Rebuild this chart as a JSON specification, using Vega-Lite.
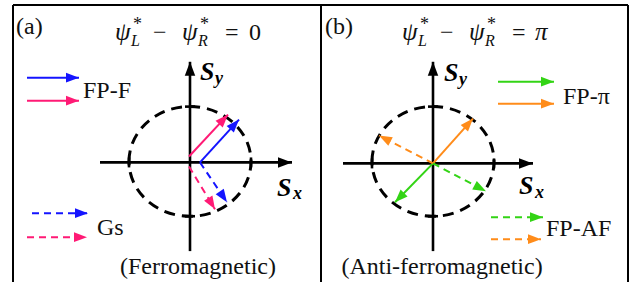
{
  "$schema": "https://vega.github.io/schema/vega-lite/v6.json",
  "width": 632,
  "height": 283,
  "padding": 0,
  "autosize": {"type": "fit", "contains": "padding"},
  "background": "white",
  "config": {"view": {"stroke": null}, "text": {"font": "'Liberation Serif', 'DejaVu Serif', serif"}},
  "datasets": {
    "seg": [
      {"k": "frame", "s": "k", "x": 13, "y": 5, "x2": 628, "y2": 5},
      {"k": "frame", "s": "k", "x": 13, "y": 5, "x2": 13, "y2": 283},
      {"k": "frame", "s": "k", "x": 321, "y": 5, "x2": 321, "y2": 283},
      {"k": "frame", "s": "k", "x": 628, "y": 5, "x2": 628, "y2": 283},
      {"k": "axis", "s": "k", "x": 190, "y": 252, "x2": 190, "y2": 62, "dir": -90},
      {"k": "axis", "s": "k", "x": 100, "y": 163, "x2": 292, "y2": 163, "dir": 0},
      {"k": "axis", "s": "k", "x": 433, "y": 252, "x2": 433, "y2": 62, "dir": -90},
      {"k": "axis", "s": "k", "x": 343, "y": 164, "x2": 533, "y2": 164, "dir": 0},
      {"k": "tick", "s": "k", "x": 129, "y": 158, "x2": 129, "y2": 168},
      {"k": "tick", "s": "k", "x": 251, "y": 158, "x2": 251, "y2": 168},
      {"k": "tick", "s": "k", "x": 185, "y": 217, "x2": 195, "y2": 217},
      {"k": "tick", "s": "k", "x": 185, "y": 107, "x2": 195, "y2": 107},
      {"k": "tick", "s": "k", "x": 372, "y": 159, "x2": 372, "y2": 169},
      {"k": "tick", "s": "k", "x": 494, "y": 159, "x2": 494, "y2": 169},
      {"k": "tick", "s": "k", "x": 428, "y": 217, "x2": 438, "y2": 217},
      {"k": "tick", "s": "k", "x": 428, "y": 107, "x2": 438, "y2": 107},
      {"k": "solid", "s": "bl", "x": 200, "y": 163, "x2": 239, "y2": 120, "dir": -47.8},
      {"k": "solid", "s": "pk", "x": 189, "y": 157, "x2": 228, "y2": 115, "dir": -47.1},
      {"k": "dashed", "s": "bl", "x": 200, "y": 163, "x2": 227, "y2": 203, "dir": 56},
      {"k": "dashed", "s": "pk", "x": 189, "y": 167, "x2": 215, "y2": 210, "dir": 58.8},
      {"k": "solid", "s": "or", "x": 433, "y": 164, "x2": 473, "y2": 119, "dir": -48.4},
      {"k": "dashed", "s": "or", "x": 433, "y": 164, "x2": 379, "y2": 136, "dir": -152.6},
      {"k": "dashed", "s": "gr", "x": 433, "y": 164, "x2": 486, "y2": 192, "dir": 27.8},
      {"k": "solid", "s": "gr", "x": 433, "y": 164, "x2": 395, "y2": 203, "dir": 134.3},
      {"k": "solid", "s": "bl", "x": 27, "y": 78, "x2": 79, "y2": 78, "dir": 0},
      {"k": "solid", "s": "pk", "x": 27, "y": 101, "x2": 79, "y2": 101, "dir": 0},
      {"k": "dashed", "s": "bl", "x": 32, "y": 214, "x2": 88, "y2": 214, "dir": 0},
      {"k": "dashed", "s": "pk", "x": 27, "y": 238, "x2": 87, "y2": 238, "dir": 0},
      {"k": "solid", "s": "gr", "x": 498, "y": 82, "x2": 554, "y2": 82, "dir": 0},
      {"k": "solid", "s": "or", "x": 498, "y": 104, "x2": 554, "y2": 104, "dir": 0},
      {"k": "dashed", "s": "gr", "x": 491, "y": 218, "x2": 543, "y2": 218, "dir": 0},
      {"k": "dashed", "s": "or", "x": 491, "y": 240, "x2": 541, "y2": 240, "dir": 0}
    ],
    "ell": [{"x": 190, "y": 162}, {"x": 433, "y": 162}],
    "txt": [
      {"g": "r", "t": "(a)", "x": 16, "y": 34},
      {"g": "r", "t": "(b)", "x": 325, "y": 34},
      {"g": "r", "t": "FP-F", "x": 83, "y": 98},
      {"g": "r", "t": "Gs", "x": 97, "y": 236},
      {"g": "r", "t": "FP-π", "x": 563, "y": 104},
      {"g": "r", "t": "FP-AF", "x": 546, "y": 237},
      {"g": "r", "t": "−", "x": 153, "y": 40},
      {"g": "r", "t": "=", "x": 225, "y": 40},
      {"g": "r", "t": "0", "x": 249, "y": 40},
      {"g": "r", "t": "−", "x": 440, "y": 40},
      {"g": "r", "t": "=", "x": 512, "y": 40},
      {"g": "pi", "t": "π", "x": 535, "y": 40},
      {"g": "c", "t": "(Ferromagnetic)", "x": 198, "y": 275},
      {"g": "c", "t": "(Anti-ferromagnetic)", "x": 442, "y": 275},
      {"g": "psi", "t": "ψ", "x": 115, "y": 40},
      {"g": "psi", "t": "ψ", "x": 182, "y": 40},
      {"g": "psi", "t": "ψ", "x": 402, "y": 40},
      {"g": "psi", "t": "ψ", "x": 469, "y": 40},
      {"g": "ast", "t": "*", "x": 133, "y": 30},
      {"g": "ast", "t": "*", "x": 200, "y": 30},
      {"g": "ast", "t": "*", "x": 420, "y": 30},
      {"g": "ast", "t": "*", "x": 487, "y": 30},
      {"g": "sub", "t": "L", "x": 131, "y": 46},
      {"g": "sub", "t": "R", "x": 198, "y": 46},
      {"g": "sub", "t": "L", "x": 418, "y": 46},
      {"g": "sub", "t": "R", "x": 485, "y": 46},
      {"g": "S", "t": "S", "x": 200, "y": 80},
      {"g": "S", "t": "S", "x": 277, "y": 197},
      {"g": "S", "t": "S", "x": 444, "y": 81},
      {"g": "S", "t": "S", "x": 519, "y": 195},
      {"g": "Ss", "t": "y", "x": 215, "y": 84},
      {"g": "Ss", "t": "x", "x": 293, "y": 200},
      {"g": "Ss", "t": "y", "x": 459, "y": 85},
      {"g": "Ss", "t": "x", "x": 535, "y": 199}
    ]
  },
  "layer": [
    {
      "data": {"name": "seg"},
      "transform": [{"filter": "datum.k == 'frame'"}],
      "mark": {"type": "rule", "color": "black", "strokeWidth": 2},
      "encoding": {
        "x": {"field": "x", "type": "quantitative", "scale": {"domain": [0, 632], "nice": false, "zero": false}, "axis": null},
        "y": {"field": "y", "type": "quantitative", "scale": {"domain": [0, 283], "reverse": true, "nice": false, "zero": false}, "axis": null},
        "x2": {"field": "x2"},
        "y2": {"field": "y2"}
      }
    },
    {
      "data": {"name": "seg"},
      "transform": [{"filter": "datum.k == 'axis' || datum.k == 'tick'"}],
      "mark": {"type": "rule", "color": "black", "strokeWidth": 2.6},
      "encoding": {
        "x": {"field": "x", "type": "quantitative", "axis": null},
        "y": {"field": "y", "type": "quantitative", "axis": null},
        "x2": {"field": "x2"},
        "y2": {"field": "y2"}
      }
    },
    {
      "data": {"name": "ell"},
      "mark": {"type": "point", "shape": "M-1,0A1,0.9,0,1,1,1,0A1,0.9,0,1,1,-1,0Z", "filled": false, "stroke": "black", "strokeWidth": 3, "strokeDash": [11, 7], "size": 14884, "opacity": 1},
      "encoding": {
        "x": {"field": "x", "type": "quantitative", "axis": null},
        "y": {"field": "y", "type": "quantitative", "axis": null}
      }
    },
    {
      "data": {"name": "seg"},
      "transform": [{"filter": "datum.k == 'solid'"}],
      "mark": {"type": "rule", "strokeWidth": 2},
      "encoding": {
        "x": {"field": "x", "type": "quantitative", "axis": null},
        "y": {"field": "y", "type": "quantitative", "axis": null},
        "x2": {"field": "x2"},
        "y2": {"field": "y2"},
        "color": {"field": "s", "type": "nominal", "scale": {"domain": ["k", "bl", "pk", "gr", "or"], "range": ["#000000", "#1414ff", "#ff1a75", "#33d415", "#ff8c1a"]}, "legend": null}
      }
    },
    {
      "data": {"name": "seg"},
      "transform": [{"filter": "datum.k == 'dashed'"}],
      "mark": {"type": "rule", "strokeWidth": 2, "strokeDash": [7, 5]},
      "encoding": {
        "x": {"field": "x", "type": "quantitative", "axis": null},
        "y": {"field": "y", "type": "quantitative", "axis": null},
        "x2": {"field": "x2"},
        "y2": {"field": "y2"},
        "color": {"field": "s", "type": "nominal", "legend": null}
      }
    },
    {
      "data": {"name": "seg"},
      "transform": [{"filter": "datum.k == 'solid' || datum.k == 'dashed'"}],
      "mark": {"type": "point", "shape": "M0,0L-2,-0.75L-2,0.75Z", "filled": true, "opacity": 1, "size": 169, "strokeWidth": 0},
      "encoding": {
        "x": {"field": "x2", "type": "quantitative", "axis": null},
        "y": {"field": "y2", "type": "quantitative", "axis": null},
        "angle": {"field": "dir", "type": "quantitative", "scale": null},
        "color": {"field": "s", "type": "nominal", "legend": null}
      }
    },
    {
      "data": {"name": "seg"},
      "transform": [{"filter": "datum.k == 'axis'"}],
      "mark": {"type": "point", "shape": "M0,0L-2,-0.75L-2,0.75Z", "filled": true, "opacity": 1, "size": 196, "strokeWidth": 0, "color": "black"},
      "encoding": {
        "x": {"field": "x2", "type": "quantitative", "axis": null},
        "y": {"field": "y2", "type": "quantitative", "axis": null},
        "angle": {"field": "dir", "type": "quantitative", "scale": null}
      }
    },
    {
      "data": {"name": "txt"},
      "transform": [{"filter": "datum.g == 'r'"}],
      "mark": {"type": "text", "fontSize": 24, "align": "left", "baseline": "alphabetic", "color": "#111"},
      "encoding": {
        "x": {"field": "x", "type": "quantitative", "axis": null},
        "y": {"field": "y", "type": "quantitative", "axis": null},
        "text": {"field": "t"}
      }
    },
    {
      "data": {"name": "txt"},
      "transform": [{"filter": "datum.g == 'c'"}],
      "mark": {"type": "text", "fontSize": 24, "align": "center", "baseline": "alphabetic", "color": "#111"},
      "encoding": {
        "x": {"field": "x", "type": "quantitative", "axis": null},
        "y": {"field": "y", "type": "quantitative", "axis": null},
        "text": {"field": "t"}
      }
    },
    {
      "data": {"name": "txt"},
      "transform": [{"filter": "datum.g == 'psi' || datum.g == 'pi'"}],
      "mark": {"type": "text", "fontStyle": "italic", "fontSize": 25, "align": "left", "baseline": "alphabetic", "color": "#111"},
      "encoding": {
        "x": {"field": "x", "type": "quantitative", "axis": null},
        "y": {"field": "y", "type": "quantitative", "axis": null},
        "text": {"field": "t"}
      }
    },
    {
      "data": {"name": "txt"},
      "transform": [{"filter": "datum.g == 'ast'"}],
      "mark": {"type": "text", "fontSize": 18, "align": "left", "baseline": "alphabetic", "color": "#111"},
      "encoding": {
        "x": {"field": "x", "type": "quantitative", "axis": null},
        "y": {"field": "y", "type": "quantitative", "axis": null},
        "text": {"field": "t"}
      }
    },
    {
      "data": {"name": "txt"},
      "transform": [{"filter": "datum.g == 'sub'"}],
      "mark": {"type": "text", "fontStyle": "italic", "fontSize": 16, "align": "left", "baseline": "alphabetic", "color": "#111"},
      "encoding": {
        "x": {"field": "x", "type": "quantitative", "axis": null},
        "y": {"field": "y", "type": "quantitative", "axis": null},
        "text": {"field": "t"}
      }
    },
    {
      "data": {"name": "txt"},
      "transform": [{"filter": "datum.g == 'S'"}],
      "mark": {"type": "text", "fontStyle": "italic", "fontWeight": "bold", "fontSize": 26, "align": "left", "baseline": "alphabetic", "color": "black"},
      "encoding": {
        "x": {"field": "x", "type": "quantitative", "axis": null},
        "y": {"field": "y", "type": "quantitative", "axis": null},
        "text": {"field": "t"}
      }
    },
    {
      "data": {"name": "txt"},
      "transform": [{"filter": "datum.g == 'Ss'"}],
      "mark": {"type": "text", "fontStyle": "italic", "fontWeight": "bold", "fontSize": 18, "align": "left", "baseline": "alphabetic", "color": "black"},
      "encoding": {
        "x": {"field": "x", "type": "quantitative", "axis": null},
        "y": {"field": "y", "type": "quantitative", "axis": null},
        "text": {"field": "t"}
      }
    }
  ]
}
